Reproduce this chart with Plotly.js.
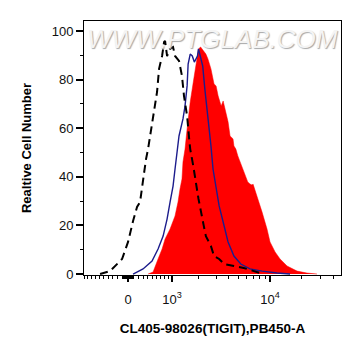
<!DOCTYPE html>
<html>
<head>
<meta charset="utf-8">
<script src="https://cdn.plot.ly/plotly-3.0.1.min.js"></script>
<style>html,body{margin:0;padding:0;background:#fff;}#chart{width:361px;height:356px;}</style>
</head>
<body>
<div id="chart"></div>
<script>
// Fluorescence intensity (PB450-A) and relative cell number
const sampleX = [403, 513, 629, 728, 805, 941, 1088, 1182, 1248, 1316, 1351, 1425, 1503, 1626, 1755, 1893, 1991, 2094, 2258, 2373, 2490, 2670, 2866, 3004, 3146, 3372, 3527, 3687, 3941, 4121, 4405, 4497, 4693, 4905, 5236, 5594, 6113, 6427, 6720, 6874, 7509, 8386, 9355, 9996, 11170, 12460, 14540, 18110, 22530, 28070];
const sampleY = [0, 0.8, 6.2, 10.3, 14.4, 18.5, 23.9, 29.6, 35.0, 39.1, 46.1, 51.4, 59.7, 70.8, 79.0, 87.2, 92.6, 93.4, 91.4, 90.5, 88.5, 84.4, 78.2, 77.4, 73.3, 69.1, 71.2, 67.9, 62.6, 56.8, 55.6, 52.7, 51.4, 48.6, 45.3, 42.0, 37.9, 37.0, 36.6, 37.0, 32.1, 25.5, 18.5, 13.2, 9.1, 6.2, 3.3, 1.2, 0.4, 0];

const isoX = [98, 298, 490, 629, 754, 858, 941, 1028, 1088, 1151, 1215, 1351, 1425, 1503, 1543, 1626, 1712, 1800, 1942, 1991, 2202, 2315, 2490, 2670, 2800, 3004, 3220, 3527, 3941, 4497, 5236, 6427, 8386, 11670, 15530];
const isoY = [0, 2.1, 5.3, 10.3, 15.6, 22.6, 29.6, 36.2, 43.2, 49.4, 56.8, 63.8, 69.1, 77.4, 86.4, 90.5, 89.7, 87.2, 89.7, 92.6, 85.6, 76.1, 65.0, 52.7, 43.2, 35.0, 28.0, 21.4, 13.2, 7.4, 4.1, 2.1, 1.2, 0.4, 0];

const blankX = [-581, -360, -117, 0, 98, 177, 237, 298, 360, 403, 513, 605, 653, 728, 779, 805, 858, 941, 1028, 1088, 1215, 1316, 1387, 1503, 1584, 1626, 1755, 1991, 2258, 2373, 2670, 2866, 3220, 3606, 4497, 5594, 8023];
const blankY = [0, 1.2, 6.2, 13.2, 21.8, 27.6, 29.6, 39.1, 47.3, 51.4, 65.0, 74.9, 84.4, 89.7, 95.5, 95.9, 89.7, 92.6, 93.4, 89.7, 87.7, 81.5, 73.3, 65.0, 55.6, 51.4, 44.4, 30.9, 19.8, 15.6, 11.5, 7.4, 6.2, 4.1, 3.3, 2.5, 0.4];

const xTickVals = [0, 1000, 10000];
const xTickText = ['0', '10<sup>3</sup>', '10<sup>4</sup>'];
const yTickVals = [0, 20, 40, 60, 80, 100];
const xRange = [-1000, 47500];

// biexponential-like display transform
const C = 890;
const T = v => Math.asinh(v / C);

const minorVals = [];
for (let k = -1000; k <= -100; k += 100) minorVals.push(k);
for (let k = -90; k <= 90; k += 10) if (k !== 0) minorVals.push(k);
for (let k = 100; k <= 900; k += 100) minorVals.push(k);
for (let k = 2000; k <= 9000; k += 1000) minorVals.push(k);
for (let k = 20000; k <= 40000; k += 10000) minorVals.push(k);

const font = 'Liberation Sans, Arial, sans-serif';

const traces = [
  {x: sampleX.map(T), y: sampleY, type: 'scatter', mode: 'lines', fill: 'tozeroy',
   fillcolor: '#ff0000', line: {color: '#ff0000', width: 0.5}, hoverinfo: 'skip'},
  {x: isoX.map(T), y: isoY, type: 'scatter', mode: 'lines',
   line: {color: '#1c1c8c', width: 1.4}, hoverinfo: 'skip'},
  {x: blankX.map(T), y: blankY, type: 'scatter', mode: 'lines',
   line: {color: '#000000', width: 2, dash: '8px,5px'}, hoverinfo: 'skip'}
];

const layout = {
  width: 361, height: 356,
  margin: {l: 84, r: 20, t: 21, b: 81},
  paper_bgcolor: '#fff', plot_bgcolor: '#fff',
  showlegend: false,
  font: {family: font, color: '#000'},
  xaxis: {
    range: xRange.map(T), showgrid: false, zeroline: false,
    showline: true, mirror: true, linecolor: '#000', linewidth: 1,
    tickmode: 'array', tickvals: xTickVals.map(T), ticktext: xTickText,
    ticks: 'outside', ticklen: 6, tickwidth: 2, tickcolor: '#000',
    ticklabelstandoff: 6,
    tickfont: {size: 13, color: '#111', family: font},
    minor: {tickmode: 'array', tickvals: minorVals.map(T), ticks: 'outside', ticklen: 3, tickwidth: 1, tickcolor: '#000'},
    title: {text: '<b>CL405-98026(TIGIT),PB450-A</b>', font: {size: 13.5, family: font, color: '#000'}, standoff: 17}
  },
  yaxis: {
    range: [-0.4, 104.1], showgrid: false, zeroline: false,
    showline: true, mirror: true, linecolor: '#000', linewidth: 1,
    tickmode: 'array', tickvals: yTickVals,
    ticks: 'outside', ticklen: 7, tickwidth: 2, tickcolor: '#000',
    tickfont: {size: 13, color: '#111', family: font},
    minor: {dtick: 10, ticks: 'outside', ticklen: 3, tickwidth: 1, tickcolor: '#000'},
    title: {text: '<b>Realtive Cell Number</b>', font: {size: 13, family: font, color: '#000'}, standoff: 17}
  },
  annotations: [{
    text: '<i>WWW.PTGLAB.COM</i>', xref: 'paper', yref: 'paper', x: 0.5, y: 1, yanchor: 'top', yshift: -1,
    showarrow: false,
    font: {size: 26, family: font, color: '#f4f4f4', shadow: '1px 1px 1px #a8a8a8'}
  }]
};

Plotly.newPlot('chart', traces, layout, {staticPlot: true, displayModeBar: false});
</script>
</body>
</html>
